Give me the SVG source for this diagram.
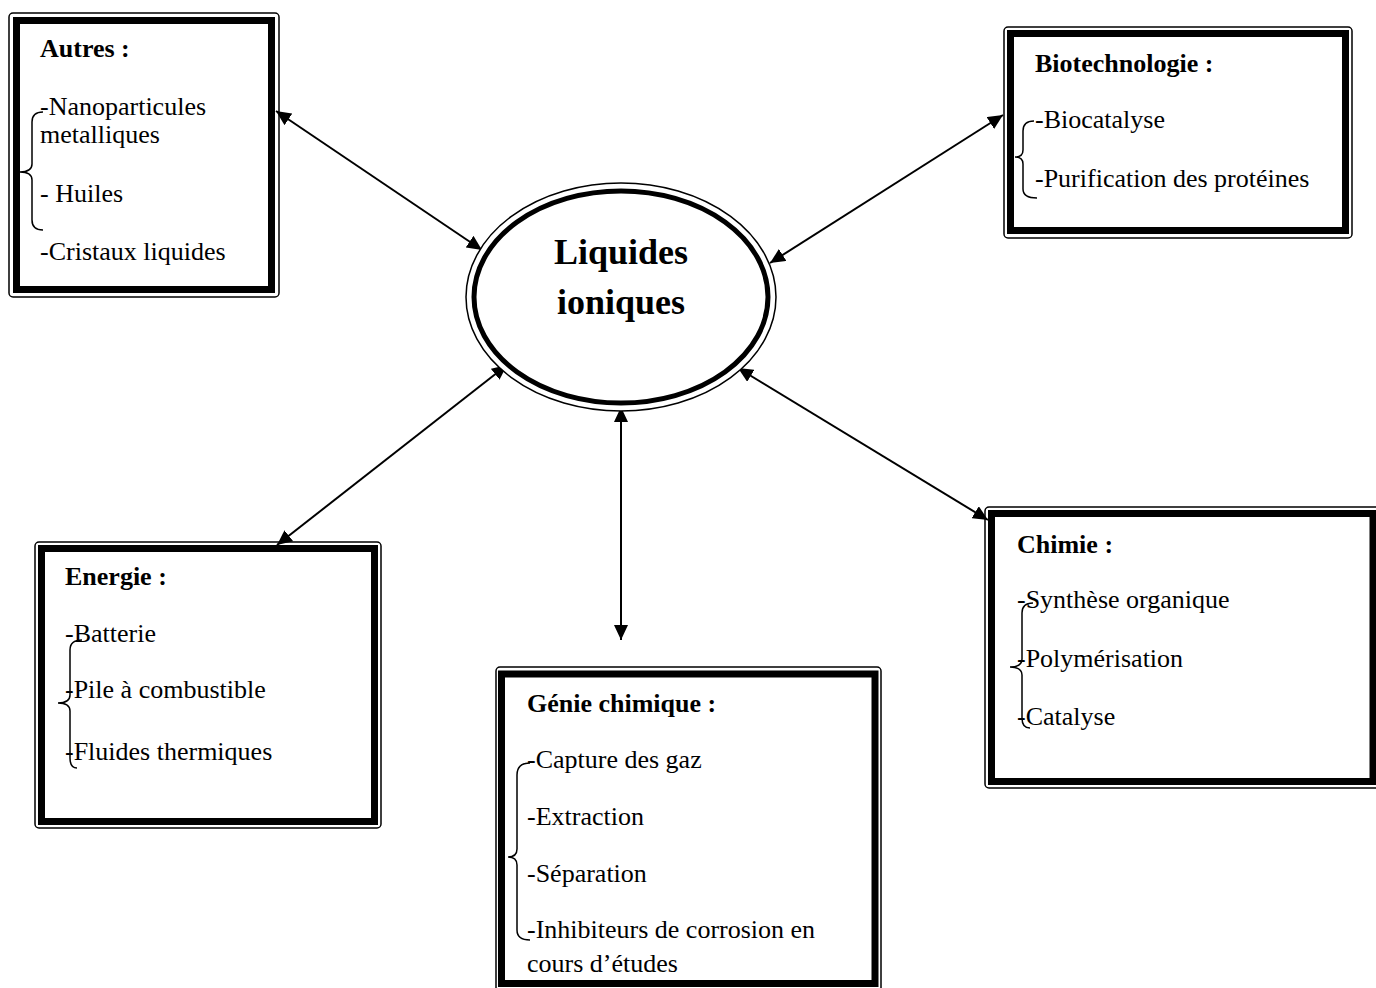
<svg xmlns="http://www.w3.org/2000/svg" width="1376" height="988" viewBox="0 0 1376 988">
<style>
.outer{fill:none;stroke:#000;stroke-width:1.5}
.thick{fill:none;stroke:#000;stroke-width:7}
.t{font-family:"Liberation Serif","Times New Roman",serif;font-size:26px;fill:#000}
.b{font-weight:bold}
.brace{fill:none;stroke:#000;stroke-width:1.5}
.conn{stroke:#000;stroke-width:2;fill:none}
</style>
<defs>
<marker id="ah" viewBox="0 0 15 14" refX="15" refY="7" markerWidth="15" markerHeight="14" markerUnits="userSpaceOnUse" orient="auto-start-reverse">
<path d="M0,0 L15,7 L0,14 z" fill="#000"/>
</marker>
</defs>
<rect width="1376" height="988" fill="#fff"/>

<g id="connectors">
<line class="conn" x1="276" y1="111" x2="482" y2="250" marker-start="url(#ah)" marker-end="url(#ah)"/>
<line class="conn" x1="1003" y1="115" x2="770" y2="263" marker-start="url(#ah)" marker-end="url(#ah)"/>
<line class="conn" x1="507" y1="365" x2="277" y2="545" marker-start="url(#ah)" marker-end="url(#ah)"/>
<line class="conn" x1="738" y1="368" x2="988" y2="520" marker-start="url(#ah)" marker-end="url(#ah)"/>
<line class="conn" x1="621" y1="407" x2="621" y2="640" marker-start="url(#ah)" marker-end="url(#ah)"/>
</g>

<g id="center">
<ellipse cx="621" cy="297" rx="155" ry="114" fill="#fff" stroke="#000" stroke-width="1.5"/>
<ellipse cx="621" cy="297" rx="147" ry="106" fill="none" stroke="#000" stroke-width="5"/>
<text class="t b" x="621" y="264" text-anchor="middle" style="font-size:36px">Liquides</text>
<text class="t b" x="621" y="314" text-anchor="middle" style="font-size:36px">ioniques</text>
</g>

<g id="autres">
<rect class="outer" x="9" y="13" width="270" height="284" rx="4" fill="#fff"/>
<rect class="thick" x="16.5" y="20.5" width="255" height="269"/>
<text class="t b" x="40" y="57">Autres :</text>
<text class="t" x="40" y="115">-Nanoparticules</text>
<text class="t" x="40" y="143">metalliques</text>
<text class="t" x="40" y="202">- Huiles</text>
<text class="t" x="40" y="260">-Cristaux liquides</text>
<path class="brace" d="M43,112 Q32,112 32,122 L32,164 Q32,172 20,172 Q32,172 32,180 L32,220 Q32,230 43,230"/>
</g>

<g id="biotechnologie">
<rect class="outer" x="1004" y="27" width="348" height="211" rx="4" fill="#fff"/>
<rect class="thick" x="1010.5" y="33.5" width="335" height="197"/>
<text class="t b" x="1035" y="72">Biotechnologie :</text>
<text class="t" x="1035" y="128">-Biocatalyse</text>
<text class="t" x="1035" y="187">-Purification des protéines</text>
<path class="brace" d="M1034,121 Q1023,121 1023,131 L1023,150 Q1023,157 1015,157 Q1023,157 1023,164 L1023,189 Q1023,198 1037,198"/>
</g>

<g id="energie">
<rect class="outer" x="35" y="542" width="346" height="286" rx="4" fill="#fff"/>
<rect class="thick" x="41.5" y="548.5" width="333" height="273"/>
<text class="t b" x="65" y="585">Energie :</text>
<text class="t" x="65" y="642">-Batterie</text>
<text class="t" x="65" y="698">-Pile à combustible</text>
<text class="t" x="65" y="760">-Fluides thermiques</text>
<path class="brace" d="M82,640 Q70,640 70,650 L70,695 Q70,703 58,703 Q70,703 70,711 L70,758 Q70,768 77,768"/>
</g>

<g id="genie">
<rect class="outer" x="496" y="667" width="385" height="326" rx="4" fill="#fff"/>
<rect class="thick" x="501.5" y="674" width="373.5" height="309.5"/>
<text class="t b" x="527" y="712">Génie chimique :</text>
<text class="t" x="527" y="768">-Capture des gaz</text>
<text class="t" x="527" y="825">-Extraction</text>
<text class="t" x="527" y="882">-Séparation</text>
<text class="t" x="527" y="938">-Inhibiteurs de corrosion en</text>
<text class="t" x="527" y="972">cours d’études</text>
<path class="brace" d="M530,763 Q517,763 517,775 L517,849 Q517,857 508,857 Q517,857 517,865 L517,930 Q517,940 530,940"/>
</g>

<g id="chimie">
<rect class="outer" x="985" y="507" width="396" height="281" rx="4" fill="#fff"/>
<rect class="thick" x="991.5" y="513.5" width="381.5" height="268"/>
<text class="t b" x="1017" y="553">Chimie :</text>
<text class="t" x="1017" y="608">-Synthèse organique</text>
<text class="t" x="1017" y="667">-Polymérisation</text>
<text class="t" x="1017" y="725">-Catalyse</text>
<path class="brace" d="M1033,603 Q1022,603 1022,613 L1022,659 Q1022,667 1010,667 Q1022,667 1022,675 L1022,718 Q1022,728 1030,728"/>
</g>
</svg>
